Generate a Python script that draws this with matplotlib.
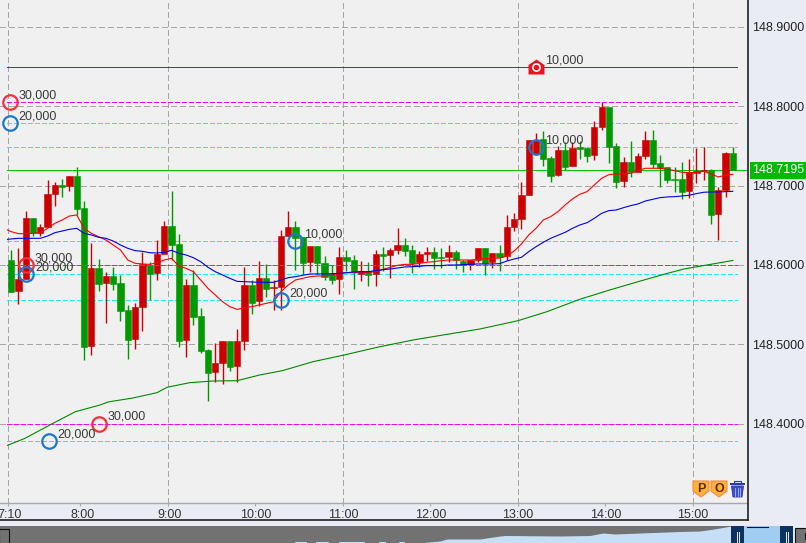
import numpy as np
import matplotlib
matplotlib.use('Agg')
import matplotlib.pyplot as plt
from matplotlib.path import Path
from matplotlib.patches import Rectangle, Polygon
from matplotlib.transforms import ScaledTranslation

plt.rcParams['font.family'] = ['Liberation Sans', 'DejaVu Sans']

#-------------------------------candles (5 min bars from 7:10)-------------------
opens = [148.6063,148.5677,148.5824,148.6592,148.6399,148.6479,148.6895,148.7008,148.6995,148.7121,
         148.6718,148.4979,148.5962,148.5773,148.5861,148.5773,148.5433,148.5068,148.5471,148.6000,
         148.5899,148.6139,148.6491,148.6265,148.5055,148.5748,148.5357,148.4929,148.4652,148.4765,
         148.5042,148.4727,148.5042,148.5748,148.5546,148.5836,148.5710,148.5723,148.6365,148.6479,
         148.6353,148.6038,148.6239,148.6025,148.5887,148.5824,148.6101,148.6063,148.5887,148.5924,
         148.5887,148.6139,148.6126,148.6189,148.6252,148.6189,148.6038,148.6139,148.6164,148.6101,
         148.6101,148.6164,148.6050,148.6013,148.6063,148.6214,148.6038,148.6151,148.6113,148.6479,
         148.6580,148.6882,148.7399,148.7588,148.7348,148.7134,148.7449,148.7247,148.7487,148.7478,
         148.7386,148.7739,148.7991,148.7499,148.7058,148.7298,148.7172,148.7373,148.7575,148.7285,
         148.7235,148.7084,148.7084,148.6932,148.7159,148.7184,148.7197,148.6643,148.6945,148.7411]
highs = [148.6189,148.6210,148.6680,148.6592,148.6517,148.7071,148.7046,148.7084,148.7121,148.7235,
         148.6806,148.6277,148.6076,148.5912,148.5975,148.5874,148.5496,148.5521,148.6164,148.6038,
         148.6315,148.6554,148.6932,148.6391,148.5824,148.5937,148.5458,148.4942,148.5017,148.5042,
         148.5042,148.5194,148.5975,148.5811,148.6050,148.6013,148.5811,148.6441,148.6680,148.6554,
         148.6353,148.6239,148.6239,148.6113,148.6000,148.6227,148.6189,148.6126,148.6050,148.6038,
         148.6189,148.6227,148.6214,148.6466,148.6340,148.6252,148.6176,148.6227,148.6227,148.6214,
         148.6252,148.6189,148.6063,148.6063,148.6214,148.6214,148.6151,148.6252,148.6630,148.6655,
         148.7046,148.7575,148.7663,148.7688,148.7373,148.7499,148.7550,148.7550,148.7562,148.7487,
         148.7814,148.8054,148.7991,148.7537,148.7361,148.7562,148.7411,148.7688,148.7701,148.7386,
         148.7235,148.7235,148.7298,148.7336,148.7474,148.7487,148.7210,148.6983,148.7424,148.7487]
lows = [148.5664,148.5509,148.5824,148.6370,148.6370,148.6479,148.6743,148.6857,148.6932,148.6630,
        148.4803,148.4866,148.5672,148.5269,148.5685,148.5294,148.4816,148.4942,148.5168,148.5559,
        148.5811,148.6139,148.6063,148.4967,148.4841,148.5244,148.4891,148.4286,148.4526,148.4501,
        148.4664,148.4526,148.4929,148.5383,148.5483,148.5601,148.5433,148.5433,148.6365,148.5937,
        148.5887,148.5912,148.5887,148.5811,148.5761,148.5635,148.5924,148.5698,148.5798,148.5735,
        148.5735,148.5924,148.5836,148.6139,148.6113,148.5899,148.5975,148.6050,148.5950,148.5962,
        148.6038,148.5950,148.5912,148.5937,148.6038,148.5874,148.5962,148.5924,148.6063,148.6428,
        148.6454,148.6882,148.7386,148.7247,148.7046,148.7121,148.7197,148.7247,148.7336,148.7298,
        148.7323,148.7701,148.7285,148.6970,148.6983,148.7109,148.7172,148.7336,148.7222,148.6983,
        148.7033,148.6920,148.6832,148.6844,148.7033,148.7071,148.6517,148.6315,148.6857,148.7195]
closes = [148.5664,148.5824,148.6592,148.6399,148.6479,148.6895,148.7008,148.6987,148.7121,148.6706,
          148.4967,148.5962,148.5761,148.5861,148.5761,148.5420,148.5055,148.5471,148.6013,148.5887,
          148.6139,148.6491,148.6252,148.5042,148.5748,148.5345,148.4916,148.4639,148.4765,148.5042,
          148.4715,148.5042,148.5748,148.5521,148.5836,148.5698,148.5723,148.6365,148.6479,148.6340,
          148.6025,148.6239,148.6025,148.5849,148.5811,148.6101,148.6050,148.5912,148.5924,148.5874,
          148.6139,148.6113,148.6189,148.6252,148.6176,148.6025,148.6139,148.6164,148.6088,148.6088,
          148.6164,148.6063,148.6000,148.6063,148.6214,148.6025,148.6151,148.6101,148.6479,148.6580,
          148.6882,148.7575,148.7575,148.7336,148.7121,148.7449,148.7235,148.7474,148.7462,148.7373,
          148.7739,148.7991,148.7487,148.7046,148.7298,148.7172,148.7373,148.7575,148.7273,148.7222,
          148.7071,148.7071,148.6920,148.7172,148.7184,148.7197,148.6630,148.6945,148.7411,148.7195]

#-------------------------------moving averages----------------------------------
ma_x = [-0.5] + list(range(100))
ma_red = [148.6441,
          148.6420,148.6395,148.6395,148.6399,148.6407,148.6462,148.6525,148.6567,148.6617,148.6630,
          148.6462,148.6399,148.6357,148.6315,148.6252,148.6189,148.6063,148.6021,148.6013,148.6008,
          148.6029,148.6063,148.6084,148.5987,148.5958,148.5916,148.5811,148.5706,148.5622,148.5538,
          148.5475,148.5441,148.5462,148.5475,148.5496,148.5517,148.5538,148.5664,148.5748,148.5811,
          148.5832,148.5853,148.5861,148.5861,148.5874,148.5895,148.5903,148.5903,148.5903,148.5908,
          148.5916,148.5945,148.5971,148.5996,148.6008,148.6008,148.6021,148.6034,148.6042,148.6055,
          148.6063,148.6063,148.6063,148.6063,148.6071,148.6080,148.6080,148.6088,148.6113,148.6176,
          148.6265,148.6378,148.6462,148.6567,148.6609,148.6672,148.6756,148.6832,148.6890,148.6924,
          148.7008,148.7092,148.7138,148.7147,148.7147,148.7155,148.7189,148.7218,148.7218,148.7218,
          148.7205,148.7189,148.7168,148.7163,148.7168,148.7180,148.7147,148.7109,148.7130,148.7142]
ma_blue = [148.6323,
           148.6328,148.6336,148.6336,148.6336,148.6336,148.6365,148.6407,148.6428,148.6449,148.6462,
           148.6399,148.6378,148.6349,148.6336,148.6302,148.6252,148.6210,148.6181,148.6172,148.6155,
           148.6151,148.6160,148.6185,148.6147,148.6126,148.6092,148.6042,148.5971,148.5916,148.5874,
           148.5832,148.5794,148.5790,148.5786,148.5782,148.5782,148.5782,148.5811,148.5840,148.5853,
           148.5870,148.5887,148.5887,148.5887,148.5891,148.5895,148.5903,148.5912,148.5916,148.5916,
           148.5929,148.5941,148.5950,148.5962,148.5975,148.5979,148.5983,148.5992,148.5992,148.5992,
           148.6000,148.6000,148.6004,148.6008,148.6013,148.6013,148.6013,148.6017,148.6050,148.6076,
           148.6097,148.6168,148.6231,148.6286,148.6336,148.6374,148.6412,148.6462,148.6504,148.6533,
           148.6588,148.6651,148.6685,148.6693,148.6722,148.6748,148.6769,148.6806,148.6827,148.6848,
           148.6857,148.6861,148.6869,148.6878,148.6899,148.6916,148.6920,148.6920,148.6924,148.6928]
long_x = [-0.5,1.9,5.3,8.8,12.2,13.3,16.7,20,21.4,24.5,27.7,31,34.1,37.2,41.4,45.5,50.6,55.1,59.8,64.3,
          69.5,73.5,78,82.1,86.3,89.7,92.3,99]
ma_long = [148.3729,148.3817,148.3985,148.4152,148.4237,148.4275,148.4325,148.4392,148.4460,148.4518,
           148.4539,148.4543,148.4615,148.4669,148.4782,148.4863,148.4971,148.5055,148.5127,148.5194,
           148.5298,148.5412,148.5568,148.5685,148.5798,148.5887,148.5950,148.6057]

#-------------------------------levels and order marks---------------------------
magenta_levels = [148.805, 148.6, 148.4]
cyan_levels = [148.7785, 148.7482, 148.6298, 148.5883, 148.5555, 148.3783]
red_level = 148.849
last_price = 148.7195

sell_x = [-0.2, 2, 12]
sell_y = [148.805, 148.6, 148.4]
sell_lab = ['30,000', '30,000', '30,000']
buy_x = [-0.2, 2.1, 5.2, 37, 39, 72]
buy_y = [148.7785, 148.5883, 148.3783, 148.5555, 148.6298, 148.7482]
buy_lab = ['20,000', '20,000', '20,000', '20,000', '10,000', '10,000']
house_x = 72
house_lab = '10,000'

hour_bars = [0, 10, 22, 34, 46, 58, 70, 82, 94]
hour_labels = ['7:10', '8:00', '9:00', '10:00', '11:00', '12:00', '13:00', '14:00', '15:00']
grid_bars = [0, 22, 46, 70, 94]
price_ticks = [148.4, 148.5, 148.6, 148.7, 148.8, 148.9]

# overview strip at the bottom, height of the filled profile along the strip
nav_x = [294,295,306,307,315,316,328,329,338,339,364,365,378,379,385,386,398,399,404,405,418,
         440,447,480,500,505,560,590,603,615,640,680,700,712,724,731]
nav_h = [0,1.5,1.5,0,0,1.5,1.5,0,0,1.5,1.5,0,0,1.5,1.5,0,0,1.5,1.5,0,0,
         2,4,4,7,7.5,7,7.5,10,9,10,11.5,12,13.7,15.7,17]

W, H = 806, 543
BG = '#e9ecf5'
RED, GREEN = '#cc0000', '#009900'
LEFT, RIGHT = -1.529, 100.94

fig = plt.figure(figsize=(W/100, H/100), dpi=100, facecolor=BG)
ax = fig.add_axes([0, 40/H, 747/W, 503/H], facecolor='#f0f0f0')
ax.set_xlim(LEFT, RIGHT)
ax.set_ylim(148.30025, 148.93375)

#-------------------------------grid and levels----------------------------------
gray = dict(color='#a6a6a6', lw=0.75, ls=(0, (5, 3)), zorder=1, antialiased=False)
for p in price_ticks:
    ax.axhline(p, **gray)
for b in grid_bars:
    ax.axvline(b-0.5, **gray)

x0, x1 = -0.53, 99.57
for p in cyan_levels:
    ax.plot([x0, x1], [p, p], color='#22eeee', lw=0.75, ls=(0, (4, 2)), zorder=2, antialiased=False)
ax.plot([x0, RIGHT], [last_price, last_price], color='#00cc00', lw=0.5, zorder=2, antialiased=False)

#-------------------------------candles------------------------------------------
bars = np.arange(len(opens))
o, h, l, c = map(np.array, (opens, highs, lows, closes))
colors = np.where(c >= o, RED, GREEN)
ax.vlines(bars, l, h, colors=colors, lw=1.0, zorder=3)
ax.bar(bars, np.abs(c-o), bottom=np.minimum(o, c), width=0.86, color=colors, edgecolor=colors, lw=0.4, zorder=4)

for p in magenta_levels:
    ax.plot([x0, x1], [p, p], color='#ff00ff', lw=0.75, ls=(0, (4, 2)), zorder=5, antialiased=False)
ax.plot([x0, x1], [red_level, red_level], color='#cc1111', lw=0.5, zorder=5, antialiased=False)

ax.plot(long_x, ma_long, color='#008a00', lw=0.8, zorder=5)
ax.plot(ma_x, ma_red, color='#ff0000', lw=0.8, zorder=6)
ax.plot(ma_x, ma_blue, color='#0000ee', lw=0.8, zorder=6)

#-------------------------------order marks--------------------------------------
def mark(xs, ys, labs, col):
    ax.plot(xs, ys, ls='none', marker='o', ms=10.4, mfc='none', mec=col, mew=1.6, zorder=8)
    for x, y, t in zip(xs, ys, labs):
        ax.annotate(t, (x, y), xytext=(6.3, 5), textcoords='offset points', fontsize=9,
                    color='#3a3a3a', va='center', zorder=9)

mark(sell_x, sell_y, sell_lab, '#f5303c')
mark(buy_x, buy_y, buy_lab, '#1b78cc')

house = Path([(0, 8), (-8, 2.5), (-8, -7), (8, -7), (8, 2.5), (0, 8)], closed=True)
ax.plot([house_x], [red_level], ls='none', marker=house, ms=11.5, mfc='#f01020', mec='none', zorder=8)
ax.plot([house_x], [red_level], ls='none', marker='o', ms=5.2, mfc='#f01020', mec='white', mew=1.2, zorder=9)
ax.annotate(house_lab, (house_x, red_level), xytext=(6.3, 5), textcoords='offset points', fontsize=9,
            color='#3a3a3a', va='center', zorder=9)

#-------------------------------axes---------------------------------------------
for s in ['top', 'left', 'right']:
    ax.spines[s].set_visible(False)
ax.spines['bottom'].set_color('#a8a8a8')
ax.spines['bottom'].set_linewidth(1.0)
ax.yaxis.tick_right()
ax.set_yticks(price_ticks)
ax.set_yticklabels(['%.4f' % p for p in price_ticks], fontsize=9, color='#222222')
ax.tick_params(axis='y', length=0, pad=4)
ax.set_xticks([b-0.5 for b in hour_bars])
ax.set_xticklabels(hour_labels, fontsize=9, color='#333333')
ax.tick_params(axis='x', length=2, color='#a8a8a8', pad=2.2)
shift = ScaledTranslation(2/100, 0, fig.dpi_scale_trans)
for lab in ax.get_xticklabels():
    if len(lab.get_text()) == 4:
        lab.set_transform(lab.get_transform() + shift)

ax.annotate('%.4f' % last_price, (1, last_price), xycoords=ax.get_yaxis_transform(),
            xytext=(4, 0), textcoords='offset points', fontsize=9, color='white', va='center',
            annotation_clip=False,
            bbox=dict(boxstyle='square,pad=0.2', facecolor='#00bb00', edgecolor='none'), zorder=10)

#-------------------------------overlay in pixels for the window furniture-------
ui = fig.add_axes([0, 0, 1, 1], facecolor='none')
ui.set_xlim(0, W)
ui.set_ylim(H, 0)
ui.axis('off')

ui.plot([747.5, 747.5], [0, 519.5], color='#222222', lw=1.2)
ui.plot([0, 747.5], [519.5, 519.5], color='#222222', lw=1.2)

def badge(x, letter):
    ui.add_patch(Polygon([(x, 481), (x+16, 481), (x+16, 491), (x+8, 497), (x, 491)],
                         facecolor='#ffb13d', edgecolor='#f58a3c', lw=0.8))
    ui.text(x+8, 488.5, letter, fontsize=9, fontweight='bold', color='#5a2c00', ha='center', va='center')

badge(693, 'P')
badge(711, 'O')
ui.add_patch(Polygon([(731.5, 486), (743.5, 486), (742, 497), (733, 497)], facecolor='#3a4fc0', edgecolor='#2a3aa0', lw=0.6))
ui.add_patch(Rectangle((729.5, 483), 15.5, 2.2, facecolor='#2a3aa0', edgecolor='none'))
ui.add_patch(Rectangle((734, 481), 7, 2, facecolor='none', edgecolor='#2a3aa0', lw=0.8))
for tx in (735, 737.5, 740):
    ui.plot([tx, tx], [488, 495.5], color='#a8b4ee', lw=0.6)

#-------------------------------overview strip-----------------------------------
ui.add_patch(Rectangle((0, 526), 731, 17, facecolor='#727272', edgecolor='none'))
ui.fill_between(nav_x, 543-np.array(nav_h), 543, color='#c6dff6', lw=0)
ui.add_patch(Rectangle((743, 526), 37, 17, facecolor='#a2cdf2', edgecolor='none'))
ui.plot([747, 768], [526.5, 526.5], color='#111111', lw=0.8)
for hx in (731, 780):
    ui.add_patch(Rectangle((hx, 526), 13, 17, facecolor='#0b3260', edgecolor='none'))
    for dx in (5.5, 8):
        ui.plot([hx+dx, hx+dx], [532, 543], color='#e8eef8', lw=0.7)
ui.add_patch(Rectangle((-1, 528.5), 10, 16, facecolor='none', edgecolor='#111111', lw=0.8))
ui.add_patch(Rectangle((794.5, 527.5), 13, 16, facecolor='#727272', edgecolor='#111111', lw=0.8))
ui.add_patch(Rectangle((804.5, 533), 2, 7, facecolor='#111111', edgecolor='none'))

fig.savefig('out.png', dpi=100, facecolor=fig.get_facecolor())
